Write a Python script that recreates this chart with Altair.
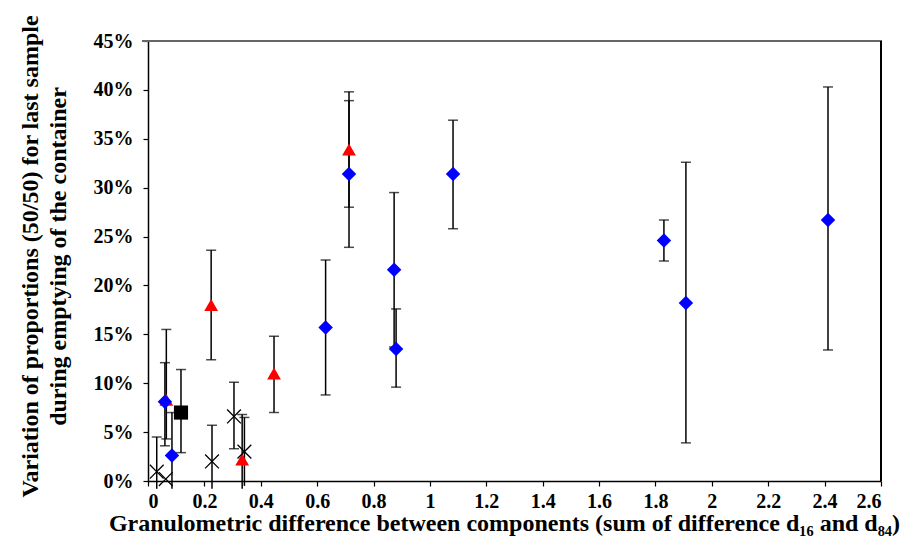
import altair as alt
import pandas as pd

# ---- data (percent values) ----
diamond_x = [0.06, 0.085, 0.63, 0.713, 0.873, 0.88, 1.082, 1.83, 1.908, 2.412]
diamond_y = [8.1, 2.6, 15.7, 31.4, 21.6, 13.5, 31.4, 24.6, 18.2, 26.7]
diamond_lo = [3.6, -1.8, 8.8, 23.9, 13.7, 9.6, 25.8, 22.5, 3.9, 13.4]
diamond_hi = [12.1, 7.0, 22.6, 38.9, 29.5, 17.6, 36.9, 26.7, 32.6, 40.3]

triangle_x = [0.065, 0.224, 0.334, 0.447, 0.713]
triangle_y = [8.3, 18.0, 2.2, 11.0, 33.9]
triangle_lo = [4.3, 12.4, -2.4, 7.0, 28.0]
triangle_hi = [15.5, 23.6, 6.8, 14.8, 39.8]

square_x = [0.117]
square_y = [7.0]
square_lo = [2.9]
square_hi = [11.4]

cross_x = [0.031, 0.063, 0.227, 0.305, 0.342]
cross_y = [0.95, 0.2, 2.0, 6.6, 3.0]
cross_lo = [-2.6, 0.2, -1.7, 3.3, -0.5]
cross_hi = [4.5, 0.2, 5.7, 10.1, 6.5]

x_ticks = [round(i * 0.2, 1) for i in range(14)]
y_ticks = [round(i * 0.05, 2) for i in range(10)]

rows = []
for name, xs, ys, los, his in [
    ("triangle", triangle_x, triangle_y, triangle_lo, triangle_hi),
    ("diamond", diamond_x, diamond_y, diamond_lo, diamond_hi),
    ("square", square_x, square_y, square_lo, square_hi),
    ("cross", cross_x, cross_y, cross_lo, cross_hi),
]:
    for x, y, lo, hi in zip(xs, ys, los, his):
        rows.append({
            "series": name, "x": x, "y": y / 100,
            "lo": max(lo, -0.8) / 100, "hi": hi / 100,
            "locap": lo >= 0 and lo != y, "hicap": hi != y,
        })
df = pd.DataFrame(rows)

FONT = "Liberation Serif"
W, H = 733, 440

xscale = alt.Scale(domain=[0, 2.6], nice=False, zero=False)
yscale = alt.Scale(domain=[0, 0.45], nice=False)

xaxis = alt.Axis(
    values=x_ticks, format="~g", grid=False, labelPadding=5,
    title="Granulometric difference between components (sum of difference d\u2081\u2086 and d\u2088\u2084)",
    titleX=356, titleY=49, titleAnchor="middle", titleBaseline="alphabetic",
)
yaxis = alt.Axis(
    values=y_ticks, format=".0%", grid=False, labelPadding=10,
    title=["Variation of  proportions (50/50) for last sample",
           "during emptying of the container"],
    titleX=-118, titleY=215, titleAngle=-90, titleAlign="center",
    titleBaseline="middle", titleLineHeight=28,
)

base = alt.Chart(df)

bars = base.mark_rule(color="black", strokeWidth=1.5).encode(
    x=alt.X("x:Q", scale=xscale, axis=xaxis),
    y=alt.Y("lo:Q", scale=yscale, axis=yaxis),
    y2="hi:Q",
)
hicaps = base.transform_filter("datum.hicap").mark_tick(
    orient="horizontal", size=10, thickness=1.5, color="black"
).encode(x=alt.X("x:Q", scale=xscale), y=alt.Y("hi:Q", scale=yscale))
locaps = base.transform_filter("datum.locap").mark_tick(
    orient="horizontal", size=10, thickness=1.5, color="black"
).encode(x=alt.X("x:Q", scale=xscale), y=alt.Y("lo:Q", scale=yscale))


def pts(name, **kw):
    return base.transform_filter(alt.datum.series == name).mark_point(**kw).encode(
        x=alt.X("x:Q", scale=xscale), y=alt.Y("y:Q", scale=yscale)
    )


tri = pts("triangle", shape="triangle-up", filled=True, color="#ff0000", size=190, opacity=1)
dia = pts("diamond", shape="diamond", filled=True, color="#0000ff", size=210, opacity=1)
sq = pts("square", shape="square", filled=True, color="black", size=200, opacity=1)
crs = pts("cross", shape="M-1,-1L1,1M-1,1L1,-1", filled=False, color="black",
          size=190, strokeWidth=1.3, opacity=1)

top_line = alt.Chart(df).mark_rule(color="#666666", strokeWidth=2).encode(
    x=alt.value(-6), x2=alt.value(W + 1), y=alt.value(0)
)
right_line = alt.Chart(df).mark_rule(color="black", strokeWidth=1.5).encode(
    x=alt.value(W), y=alt.value(0), y2=alt.value(H)
)

chart = alt.layer(
    top_line, right_line, bars, hicaps, locaps, tri, dia, sq, crs
).properties(
    width=W, height=H,
    autosize=alt.AutoSizeParams(type="none"),
    padding={"left": 140, "top": 33, "right": 22, "bottom": 57},
).configure_view(stroke=None).configure_axis(
    labelFont=FONT, titleFont=FONT, labelFontSize=20, titleFontSize=24,
    labelFontWeight="bold", titleFontWeight="bold", labelColor="black",
    titleColor="black", domainColor="black", domainWidth=1.5, tickColor="black",
    tickSize=5, tickWidth=1.2,
)

chart.save("out.html", embed_options={"renderer": "svg", "actions": False})
